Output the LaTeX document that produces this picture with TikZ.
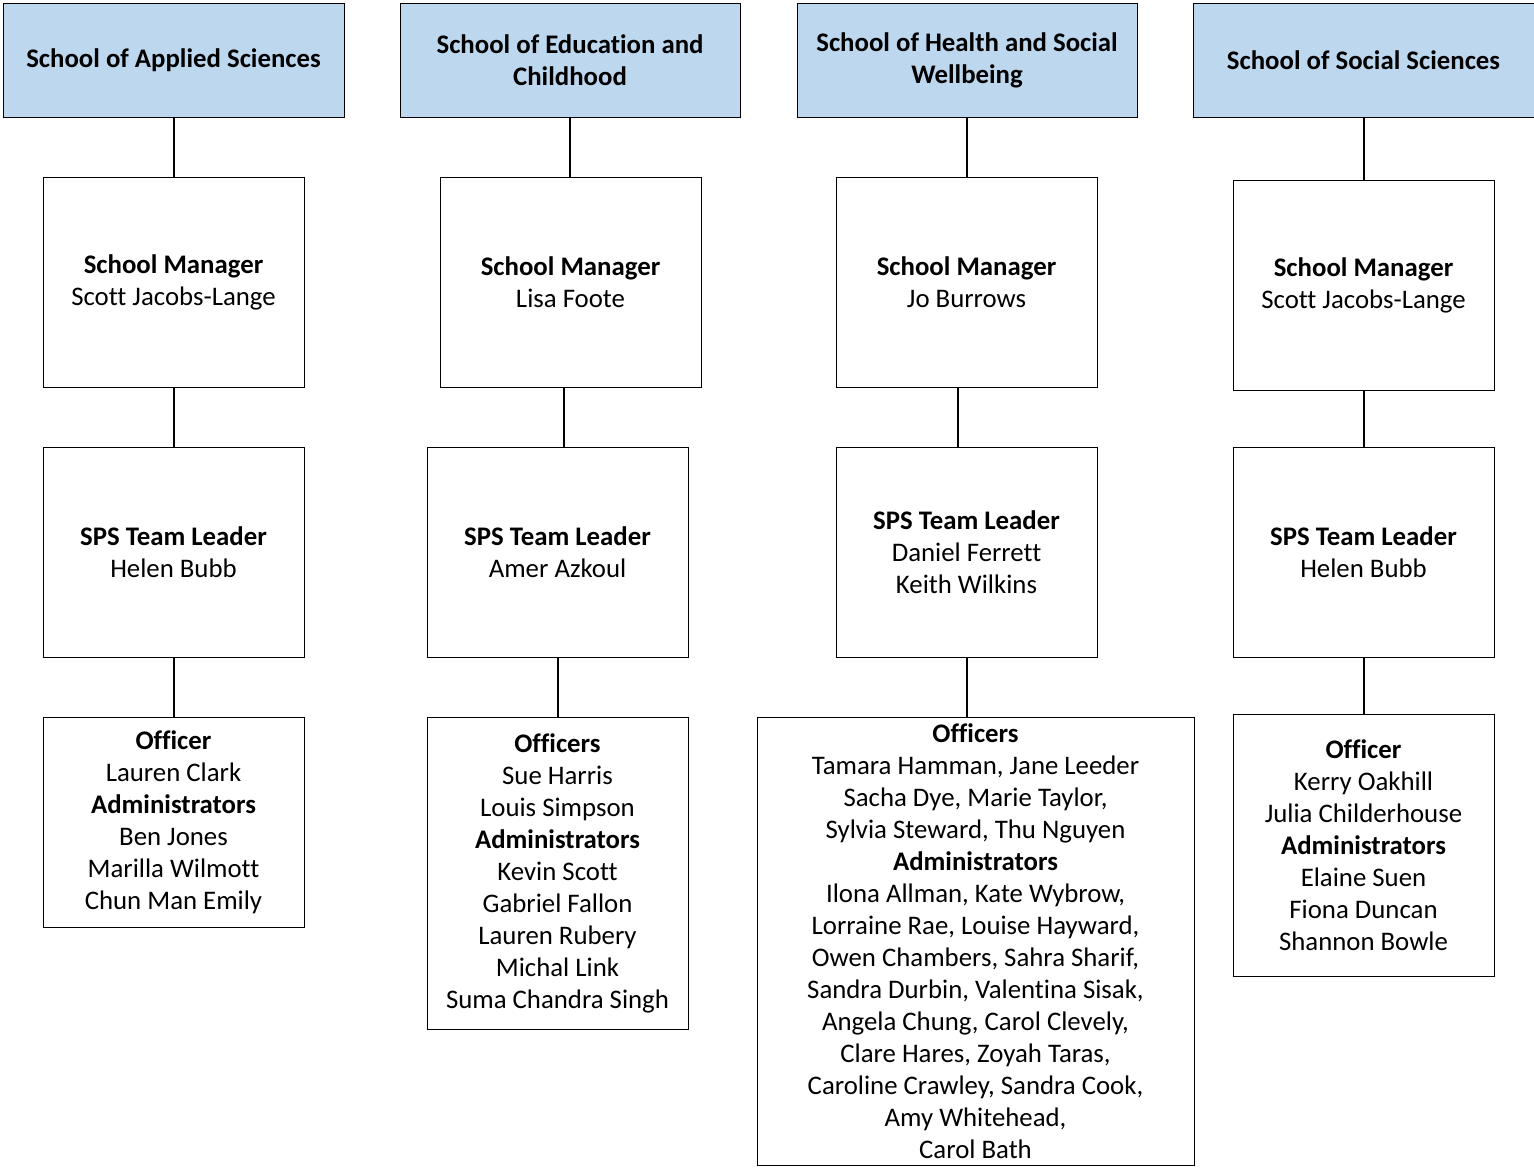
\documentclass[tikz,border=0pt]{standalone}
\usepackage{fontspec}
\setmainfont{Carlito}[Ligatures=CommonOff]
\definecolor{headblue}{HTML}{BDD7EE}

\tikzset{
  school/.style={rectangle, draw, fill=headblue, minimum width=170.5pt, minimum height=57pt, inner sep=0pt, align=center, font=\fontsize{13.4}{16}\selectfont\bfseries},
  staff/.style={rectangle, draw, fill=white, minimum width=130.5pt, minimum height=105pt, inner sep=0pt, align=center, font=\fontsize{13.4}{16}\selectfont},
  link/.style={line width=1pt}
}

\begin{document}
\begin{tikzpicture}[x=0.5pt, y=-0.5pt, line width=0.5pt]
    \useasboundingbox (0,0) rectangle (1534,1167);

    % schools
    \node[school] (sch1) at (173.5,60) {School of Applied Sciences};
    \node[school, minimum width=170pt] (sch2) at (570,60) {School of Education and\\Childhood};
    \node[school, minimum width=170pt] (sch3) at (967,60) {School of Health and Social\\Wellbeing};
    \node[school] (sch4) at (1363.5,60) {School of Social Sciences};

    % school managers
    \node[staff] (mgr1) at (173.5,282) {\textbf{School Manager}\\Scott Jacobs-Lange};
    \node[staff] (mgr2) at (570.5,282) {\textbf{School Manager}\\Lisa Foote};
    \node[staff] (mgr3) at (966.5,282) {\textbf{School Manager}\\Jo Burrows};
    \node[staff] (mgr4) at (1363.5,285) {\textbf{School Manager}\\Scott Jacobs-Lange};

    % team leaders
    \node[staff] (lead1) at (173.5,552) {\textbf{SPS Team Leader}\\Helen Bubb};
    \node[staff] (lead2) at (557.5,552) {\textbf{SPS Team Leader}\\Amer Azkoul};
    \node[staff] (lead3) at (966.5,552) {\textbf{SPS Team Leader}\\Daniel Ferrett\\Keith Wilkins};
    \node[staff] (lead4) at (1363.5,552) {\textbf{SPS Team Leader}\\Helen Bubb};

    % officers and administrators
    \node[staff] (off1) at (173.5,822) {\textbf{Officer}\\Lauren Clark\\\textbf{Administrators}\\Ben Jones\\Marilla Wilmott\\Chun Man Emily};
    \node[staff, minimum height=156pt] (off2) at (557.5,873) {\textbf{Officers}\\Sue Harris\\Louis Simpson\\\textbf{Administrators}\\Kevin Scott\\Gabriel Fallon\\Lauren Rubery\\Michal Link\\Suma Chandra Singh};
    \node[staff, minimum width=218.5pt, minimum height=224pt] (off3) at (975.5,941) {\textbf{Officers}\\Tamara Hamman, Jane Leeder\\Sacha Dye, Marie Taylor,\\Sylvia Steward, Thu Nguyen\\\textbf{Administrators}\\Ilona Allman, Kate Wybrow,\\Lorraine Rae, Louise Hayward,\\Owen Chambers, Sahra Sharif,\\Sandra Durbin, Valentina Sisak,\\Angela Chung, Carol Clevely,\\Clare Hares, Zoyah Taras,\\Caroline Crawley, Sandra Cook,\\Amy Whitehead,\\Carol Bath};
    \node[staff, minimum height=131pt] (off4) at (1363.5,845) {\textbf{Officer}\\Kerry Oakhill\\Julia Childerhouse\\\textbf{Administrators}\\Elaine Suen\\Fiona Duncan\\Shannon Bowle};

    % connectors
    \draw[link] (sch1) -- (mgr1);
    \draw[link] (mgr1) -- (lead1);
    \draw[link] (lead1) -- (off1);

    \draw[link] (sch2.south) -- (sch2.south |- mgr2.north);
    \draw[link] (mgr2.south -| 564,0) -- (lead2.north -| 564,0);
    \draw[link] (lead2) -- (off2);

    \draw[link] (sch3.south) -- (sch3.south |- mgr3.north);
    \draw[link] (mgr3.south -| 958,0) -- (lead3.north -| 958,0);
    \draw[link] (lead3.south) -- (lead3.south |- off3.north);

    \draw[link] (sch4) -- (mgr4);
    \draw[link] (mgr4) -- (lead4);
    \draw[link] (lead4) -- (off4);
\end{tikzpicture}
\end{document}
